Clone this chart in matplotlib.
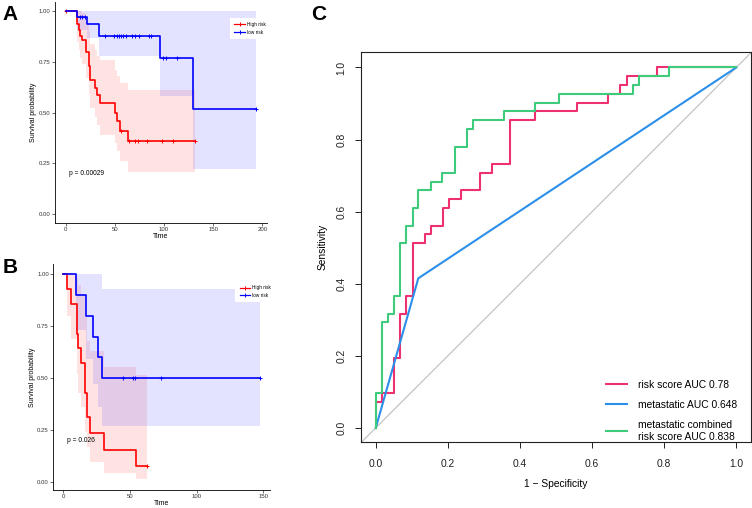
import numpy as np
import matplotlib
matplotlib.use("Agg")
import matplotlib.pyplot as plt
from matplotlib.lines import Line2D

plt.rcParams['font.family'] = ['Liberation Sans', 'DejaVu Sans']

# ---------------- panel A : KM curves, cohort 1
a_high_t  = [0, 12, 13.5, 15, 17, 20.5, 24, 25, 30, 32, 34.5, 50, 52.5, 55, 63.5]
a_high_s  = [1, 0.94, 0.91, 0.88, 0.86, 0.80, 0.73, 0.663, 0.62, 0.588, 0.547, 0.50, 0.456, 0.41, 0.36]
a_high_lo = [1, 0.85, 0.81, 0.77, 0.74, 0.67, 0.59, 0.52, 0.48, 0.44, 0.39, 0.35, 0.31, 0.26, 0.205]
a_high_hi = [1, 1, 1, 1, 0.99, 0.95, 0.90, 0.84, 0.81, 0.78, 0.76, 0.71, 0.68, 0.645, 0.61]
a_high_cens = [0.5, 56, 64.5, 70, 74, 82.5, 98, 109.5, 131.5]
a_high_end = 131.5

a_low_t  = [0, 12, 22, 34, 96, 129]
a_low_s  = [1, 0.97, 0.94, 0.88, 0.77, 0.515]
a_low_lo = [1, 0.91, 0.87, 0.78, 0.58, 0.22]
a_low_hi = [1, 1, 1, 1, 1, 1]
a_low_cens = [14.5, 17, 19.5, 40, 49.5, 52.5, 54.5, 56.5, 58, 61.5, 67, 70,
              75, 85, 87, 98.5, 102.5, 113, 194]
a_low_end = 194
a_pval = "p = 0.00029"

# ---------------- panel B : KM curves, cohort 2
b_high_t  = [0, 2.5, 6, 10, 11, 13, 16.5, 17.5, 20, 30.5, 54.5]
b_high_s  = [1, 0.929, 0.857, 0.714, 0.643, 0.571, 0.43, 0.31, 0.233, 0.155, 0.078]
b_high_lo = [1, 0.80, 0.69, 0.52, 0.43, 0.36, 0.24, 0.165, 0.096, 0.043, 0.012]
b_high_hi = [1, 1, 1, 0.98, 0.95, 0.90, 0.80, 0.68, 0.63, 0.555, 0.515]
b_high_cens = [63]
b_high_end = 63

b_low_t  = [0, 9.5, 17, 22.5, 25.75, 28.75]
b_low_s  = [1, 0.90, 0.80, 0.70, 0.60, 0.50]
b_low_lo = [1, 0.73, 0.59, 0.47, 0.36, 0.27]
b_low_hi = [1, 1, 1, 1, 1, 0.93]
b_low_cens = [44.5, 52.5, 54, 73, 147.5]
b_low_end = 147.5
b_pval = "p = 0.026"

# ---------------- panel C : ROC (x where curve rises, level reached)
risk_x = [0, 0.016, 0.051, 0.067, 0.083, 0.102, 0.136, 0.152, 0.187, 0.204,
          0.236, 0.289, 0.322, 0.372, 0.442, 0.559, 0.645, 0.678, 0.696, 0.780]
risk_y = [0.073, 0.098, 0.195, 0.317, 0.366, 0.512, 0.537, 0.561, 0.610, 0.634,
          0.659, 0.707, 0.732, 0.854, 0.878, 0.902, 0.927, 0.951, 0.976, 1.0]
comb_x = [0, 0.016, 0.034, 0.051, 0.067, 0.083, 0.102, 0.118, 0.152, 0.185,
          0.219, 0.254, 0.270, 0.356, 0.442, 0.508, 0.713, 0.729, 0.814]
comb_y = [0.098, 0.293, 0.317, 0.366, 0.512, 0.561, 0.610, 0.659, 0.683, 0.707,
          0.780, 0.829, 0.854, 0.878, 0.902, 0.927, 0.951, 0.976, 1.0]
meta_x = [0, 0.118, 1]
meta_y = [0, 0.415, 1]
roc_labels = ["risk score AUC 0.78", "metastatic AUC 0.648",
              "metastatic combined\nrisk score AUC 0.838"]
roc_colors = ["#EE2F72", "#2B8FEA", "#3FCB7C"]


def staircase(xs, ys):
    px, py = [0], [0]
    for x, y in zip(xs, ys):
        px += [x, x]
        py += [py[-1], y]
    px.append(1)
    py.append(py[-1])
    return px, py


def km_curve(ax, t, s, lo, hi, cens, end, color):
    tt = t + [end]
    ax.fill_between(tt, lo + [lo[-1]], hi + [hi[-1]], step='post',
                    color=color, alpha=0.11, lw=0)
    ax.step(tt, s + [s[-1]], where='post', color=color, lw=1.2)
    idx = np.searchsorted(t, cens, side='right') - 1
    ax.plot(cens, np.array(s)[idx], '+', color=color, ms=3, mew=0.7)


def km_style(ax, xlim, xticks, ylim, pval, leg_anchor):
    ax.set_xlim(xlim)
    ax.set_ylim(ylim)
    ax.set_xticks(xticks)
    ax.set_yticks([0, 0.25, 0.5, 0.75, 1.0])
    ax.set_yticklabels(["0.00", "0.25", "0.50", "0.75", "1.00"])
    for sp in ['top', 'right']:
        ax.spines[sp].set_visible(False)
    for sp in ['left', 'bottom']:
        ax.spines[sp].set_linewidth(0.6)
    ax.tick_params(labelsize=4.3, length=2.2, width=0.5, pad=1,
                   colors='#333333', labelcolor='#333333')
    ax.set_xlabel("Time", fontsize=5, labelpad=0.5)
    ax.set_ylabel("Survival probability", fontsize=5, labelpad=1)
    ax.text(xticks[0] + 3, 0.2, pval, fontsize=4.8, ha='left', va='center')
    handles = [Line2D([], [], color='red', lw=0.9, marker='+', ms=3, mew=0.7),
               Line2D([], [], color='blue', lw=0.9, marker='+', ms=3, mew=0.7)]
    leg = ax.legend(handles, ["High risk", "low risk"], loc='upper left',
                    bbox_to_anchor=leg_anchor, fontsize=3.4, frameon=True,
                    fancybox=False, edgecolor='none', framealpha=1,
                    handlelength=2.2, handletextpad=0.5, borderpad=0.9,
                    labelspacing=0.6)
    leg.get_frame().set_linewidth(0)


fig = plt.figure(figsize=(7.52, 5.08), dpi=100)

axA = fig.add_axes([0.0731, 0.5616, 0.282, 0.4346])
km_curve(axA, a_high_t, a_high_s, a_high_lo, a_high_hi, a_high_cens, a_high_end, 'red')
km_curve(axA, a_low_t, a_low_s, a_low_lo, a_low_hi, a_low_cens, a_low_end, 'blue')
km_style(axA, (-10.9, 204.8), [0, 50, 100, 150, 200], (-0.045, 1.047), a_pval, (0.815, 0.94))

axB = fig.add_axes([0.0709, 0.0354, 0.2879, 0.4451])
km_curve(axB, b_high_t, b_high_s, b_high_lo, b_high_hi, b_high_cens, b_high_end, 'red')
km_curve(axB, b_low_t, b_low_s, b_low_lo, b_low_hi, b_low_cens, b_low_end, 'blue')
km_style(axB, (-7.5, 154.9), [0, 50, 100, 150], (-0.04, 1.05), b_pval, (0.83, 0.935))

axC = fig.add_axes([0.4805, 0.1293, 0.5178, 0.7677])
axC.plot([-0.04, 1.04], [-0.04, 1.04], color='#BEBEBE', lw=0.8)
rx, ry = staircase(risk_x, risk_y)
cx, cy = staircase(comb_x, comb_y)
axC.plot(rx, ry, color=roc_colors[0], lw=1.5, label=roc_labels[0])
axC.plot(meta_x, meta_y, color=roc_colors[1], lw=1.5, label=roc_labels[1])
axC.plot(cx, cy, color=roc_colors[2], lw=1.5, label=roc_labels[2])
axC.set_xlim(-0.04, 1.04)
axC.set_ylim(-0.04, 1.042)
ticks = np.arange(0, 1.01, 0.2)
axC.set_xticks(ticks)
axC.set_yticks(ticks)
axC.set_xticklabels(["%.1f" % v for v in ticks])
axC.set_yticklabels(["%.1f" % v for v in ticks], rotation=90, va='center')
for sp in axC.spines.values():
    sp.set_linewidth(0.8)
    sp.set_color('#222222')
axC.tick_params(axis='x', labelsize=7.4, length=4.3, width=0.7, pad=7.5, colors='#222222')
axC.tick_params(axis='y', labelsize=7.4, length=4.3, width=0.7, pad=6.5, colors='#222222')
axC.set_xlabel("1 \u2212 Specificity", fontsize=7.4, labelpad=7.5)
axC.set_ylabel("Sensitivity", fontsize=7.4, labelpad=6)
axC.legend(loc='upper left', bbox_to_anchor=(0.628, 0.161), frameon=False,
           fontsize=7.4, handlelength=2.1, handletextpad=1.0, borderaxespad=0,
           borderpad=0, labelspacing=1.0)

fig.text(0.003, 0.99, "A", fontsize=15, fontweight='bold', ha='left', va='top')
fig.text(0.003, 0.492, "B", fontsize=15, fontweight='bold', ha='left', va='top')
fig.text(0.414, 0.99, "C", fontsize=15, fontweight='bold', ha='left', va='top')

fig.savefig("out.png", dpi=100)
